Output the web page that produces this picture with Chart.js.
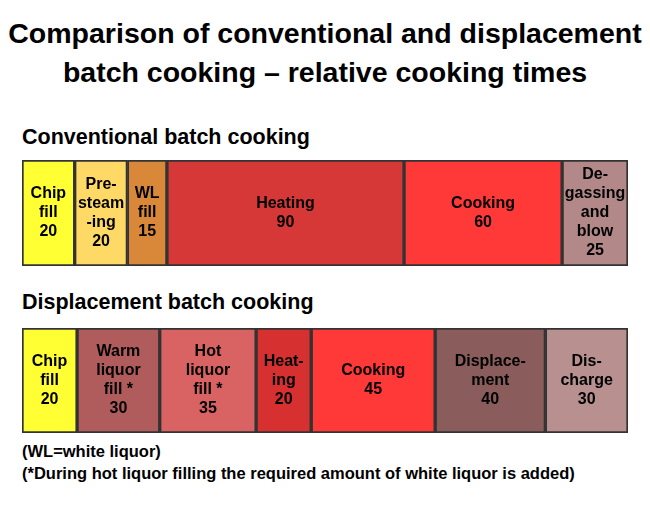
<!DOCTYPE html>
<html><head><meta charset="utf-8">
<script src="https://cdn.jsdelivr.net/npm/chart.js@4"></script>
<style>
body{margin:0;width:650px;height:505px;background:#fff;font-family:"Liberation Sans",Arial,sans-serif;position:relative;overflow:hidden}
.t{position:absolute;font-weight:bold;color:#000}
.c{position:absolute}
</style></head><body>
<div class="t" style="left:0;width:650px;top:14px;text-align:center;font-size:28.5px;line-height:39px">Comparison of conventional and displacement<br>batch cooking – relative cooking times</div>
<div class="t" style="left:22px;top:125px;font-size:21.5px">Conventional batch cooking</div>
<div class="c" style="left:21px;top:159px;width:608px;height:108px"><canvas id="c1"></canvas></div>
<div class="t" style="left:22px;top:290px;font-size:21.5px">Displacement batch cooking</div>
<div class="c" style="left:21px;top:327px;width:608px;height:107px"><canvas id="c2"></canvas></div>
<div class="t" style="left:22px;top:440px;font-size:16.5px;line-height:22px">(WL=white liquor)<br>(*During hot liquor filling the required amount of white liquor is added)</div>
<script>
const convLabels=[["Chip","fill"],["Pre-","steam","-ing"],["WL","fill"],["Heating"],["Cooking"],["De-","gassing","and","blow"]];
const convValues=[20,20,15,90,60,25];
const convColors=["#ffff33","#ffd966","#d9883a","#d63838","#ff3838","#b38888"];
const dispLabels=[["Chip","fill"],["Warm","liquor","fill *"],["Hot","liquor","fill *"],["Heat-","ing"],["Cooking"],["Displace-","ment"],["Dis-","charge"]];
const dispValues=[20,30,35,20,45,40,30];
const dispColors=["#ffff33","#b05c5c","#d96262","#d63030","#ff3838","#8b5c5c","#b89090"];
const textPlugin={id:'txt',afterDatasetsDraw(ch){
  const ctx=ch.ctx;const lbls=ch.options.plugins.txt.labels;
  ctx.save();ctx.fillStyle='#000';ctx.font='bold 16px "Liberation Sans",Arial';ctx.textAlign='center';ctx.textBaseline='middle';
  ch.data.datasets.forEach((ds,i)=>{const el=ch.getDatasetMeta(i).data[0];
    const cx=(el.x+el.base)/2,cy=el.y;const lines=lbls[i].concat([String(ds.data[0])]);
    const lh=19;let y0=cy-(lines.length-1)*lh/2;
    lines.forEach((l,j)=>ctx.fillText(l,cx,y0+j*lh));});
  ctx.restore();}};
function make(id,labels,values,colors){
  const total=values.reduce((a,b)=>a+b,0);
  new Chart(document.getElementById(id),{type:'bar',
    data:{labels:[''],datasets:values.map((v,i)=>({data:[v],backgroundColor:colors[i],borderColor:'#333',borderWidth:2,borderSkipped:false,categoryPercentage:1,barPercentage:1}))},
    options:{indexAxis:'y',responsive:true,maintainAspectRatio:false,animation:false,
      layout:{padding:1},
      scales:{x:{stacked:true,display:false,min:0,max:total},y:{stacked:true,display:false}},
      plugins:{legend:{display:false},tooltip:{enabled:false},txt:{labels}}},
    plugins:[textPlugin]});
}
make('c1',convLabels,convValues,convColors);
make('c2',dispLabels,dispValues,dispColors);
</script></body></html>
